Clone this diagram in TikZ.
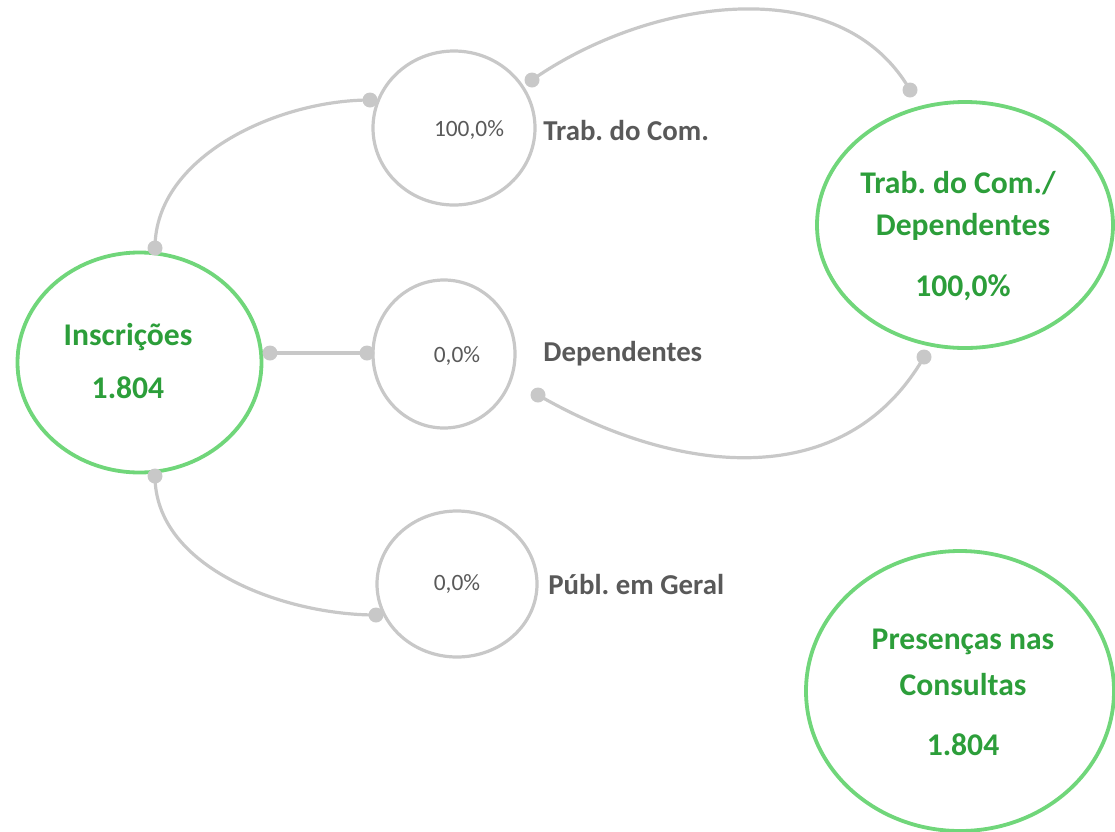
\documentclass[tikz,border=0pt]{standalone}
\usepackage{fontspec}
\setmainfont{Carlito}
\usetikzlibrary{shapes.geometric}
\definecolor{linegray}{RGB}{200,200,200}
\definecolor{textgray}{RGB}{89,89,89}
\definecolor{ringgreen}{RGB}{112,214,122}
\definecolor{textgreen}{RGB}{44,158,58}
\frenchspacing
\begin{document}
\begin{tikzpicture}[x=0.5pt,y=-0.5pt,
  bigring/.style={ellipse,draw=ringgreen,line width=1.9pt,inner sep=0pt},
  smallring/.style={ellipse,draw=linegray,line width=1.6pt,inner sep=0pt},
  title/.style={text=textgreen,font=\fontsize{15.8}{19}\selectfont\bfseries,align=center},
  pct/.style={text=textgray,font=\fontsize{11.7}{14}\selectfont},
  tag/.style={text=textgray,font=\fontsize{14.4}{17}\selectfont\bfseries,anchor=west,inner sep=0pt},
  link/.style={draw=linegray,line width=1.6pt},
  dot/.style={fill=linegray,circle,inner sep=0pt,minimum size=7.5pt}]
\useasboundingbox (0,0) rectangle (1115,831);
% circles
\node[bigring,minimum width=122pt,minimum height=110pt] (ins) at (139.5,362.5) {};
\node[smallring,minimum width=81pt,minimum height=77pt] (trab) at (454,128) {};
\node[smallring,minimum width=71pt,minimum height=74pt] (dep) at (444,354) {};
\node[smallring,minimum width=80pt,minimum height=73pt] (publ) at (457,584) {};
\node[bigring,minimum width=148pt,minimum height=123pt] (tot) at (965,225) {};
\node[bigring,minimum width=154pt,minimum height=140pt] (pres) at (960,691) {};
% texts
\node[title] (insA) at (128,337) {Inscrições};
\node[title] (insB) at (128,388) {1.804};
\node[pct] (trabP) at (469,130) {100,0\%};
\node[pct] (depP) at (457,356) {0,0\%};
\node[pct] (publP) at (457,584) {0,0\%};
\node[tag] (trabT) at (543,130) {Trab. do Com.};
\node[tag] (depT) at (543,354) {Dependentes};
\node[tag] (publT) at (548,584) {Públ. em Geral};
\node[title] (totA) at (958,183) {Trab. do Com./};
\node[title] (totB) at (963,227) {Dependentes};
\node[title] (totC) at (963,288) {100,0\%};
\node[title] (presA) at (963,642) {Presenças nas};
\node[title] (presB) at (963,685) {Consultas};
\node[title] (presC) at (963,745) {1.804};
% end points
\coordinate (a1) at (155,248);
\coordinate (a2) at (270,353);
\coordinate (a3) at (155,476);
\coordinate (b1) at (370,100);
\coordinate (b2) at (532,80);
\coordinate (c1) at (367,353);
\coordinate (c2) at (538,395);
\coordinate (d1) at (376,615);
\coordinate (e1) at (910,90);
\coordinate (e2) at (924,357);
% links
\draw[link] (a1) to[out=90,in=180,looseness=0.9] (b1);
\draw[link] (a2) -- (c1);
\draw[link] (a3) to[out=-90,in=180,looseness=0.9] (d1);
\draw[link] (b2) to[out=35,in=120,looseness=0.95] (e1);
\draw[link] (e2) to[out=-120,in=-30,looseness=1.05] (c2);
\foreach \p in {a1,a2,a3,b1,b2,c1,c2,d1,e1,e2} \node[dot] at (\p) {};
\end{tikzpicture}
\end{document}
